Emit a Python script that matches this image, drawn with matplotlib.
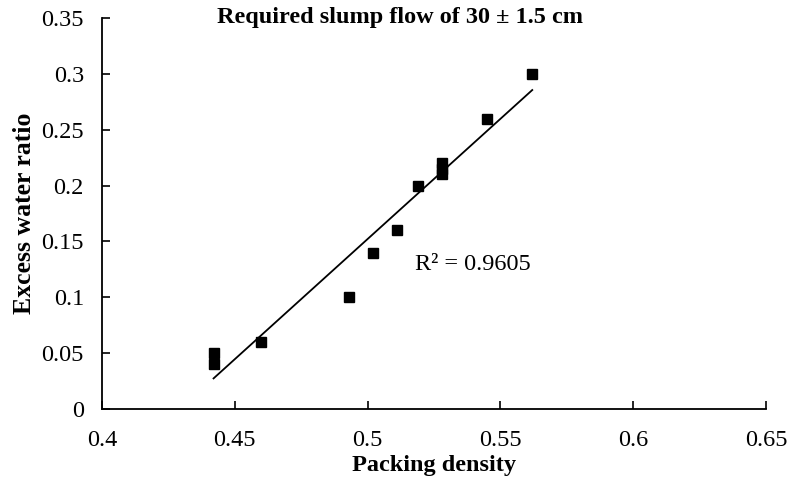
import numpy as np
import matplotlib
matplotlib.use('Agg')
import matplotlib.pyplot as plt

plt.rcParams['font.family'] = ['Liberation Serif', 'DejaVu Serif']

# valores
packing_density = [0.442, 0.442, 0.460, 0.493, 0.502, 0.511, 0.519, 0.528, 0.528, 0.528, 0.545, 0.562]
excess_water = [0.05, 0.04, 0.06, 0.10, 0.14, 0.16, 0.20, 0.22, 0.215, 0.21, 0.26, 0.30]
x_ticks = [0.4, 0.45, 0.5, 0.55, 0.6, 0.65]
y_ticks = [0, 0.05, 0.1, 0.15, 0.2, 0.25, 0.3, 0.35]

fig = plt.figure(figsize=(7.89, 4.83), dpi=100)
ax = fig.add_axes([0.1293, 0.1532, 0.8415, 0.8095])

ax.plot(packing_density, excess_water, 's', color='black', markersize=7)

# linha de tendencia
a, b = np.polyfit(packing_density, excess_water, 1)
xl = np.array([min(packing_density), max(packing_density)])
ax.plot(xl, a * xl + b, color='black', linewidth=1.3)

ax.set_xlim(0.4, 0.65)
ax.set_ylim(0, 0.35)
ax.set_xticks(x_ticks)
ax.set_yticks(y_ticks)
ax.set_xticklabels([f'{v:g}' for v in x_ticks])
ax.set_yticklabels([f'{v:g}' for v in y_ticks])
ax.tick_params(direction='in', length=6, width=1.2, labelsize=17.5)
ax.tick_params(axis='x', pad=15)
ax.tick_params(axis='y', pad=13)
ax.spines['top'].set_visible(False)
ax.spines['right'].set_visible(False)
ax.spines['left'].set_linewidth(1.3)
ax.spines['bottom'].set_linewidth(1.3)

ax.set_xlabel('Packing density', fontsize=17.5, fontweight='bold', labelpad=3)
ax.set_ylabel('Excess water ratio', fontsize=18.5, fontweight='bold', labelpad=4)

ax.text(0.518, 0.129, 'R² = 0.9605', fontsize=17.5, va='center', ha='left')
fig.text(400 / 789, 1 - 18 / 483, 'Required slump flow of 30 ± 1.5 cm',
         fontsize=17.5, fontweight='bold', ha='center', va='center')

fig.savefig('out.png', dpi=100)
